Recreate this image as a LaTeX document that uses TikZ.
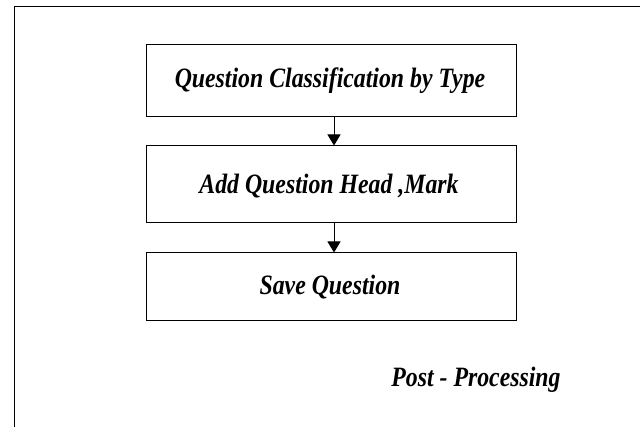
\documentclass[tikz,border=0pt]{standalone}
\usepackage{fontspec}
\setmainfont{Liberation Serif}
\usetikzlibrary{arrows.meta}
\tikzset{
  stagebox/.style={draw=black, line width=1pt, minimum width=370pt, minimum height=#1, inner sep=0pt},
  label/.style={anchor=base, inner sep=0pt, font=\fontsize{28}{30}\selectfont\bfseries\itshape},
  flow/.style={draw=black, line width=1pt, -{Triangle[width=13pt,length=11pt]}}
}
\newcommand{\narrow}[1]{\scalebox{0.85}[1]{#1}}
\begin{document}
\begin{tikzpicture}[x=1pt,y=-1pt]
  \useasboundingbox (0,0) rectangle (640,427);
  % open outer frame
  \draw[line width=1.5pt] (14.5,427) -- (14.5,6.5) -- (640,6.5);
  % processing stages
  \node[stagebox=72pt] (classify) at (331,81) {};
  \node[stagebox=77pt] (head) at (331,184.5) {};
  \node[stagebox=68pt] (save) at (331,287) {};
  \node[label] at (330,88) {\narrow{Question Classification by Type}};
  \node[label] at (329,194) {\narrow{Add Question Head ,Mark}};
  \node[label] at (330,295) {\narrow{Save Question}};
  \draw[flow] (classify.south -| 334,0) -- (head.north -| 334,0);
  \draw[flow] (head.south -| 334,0) -- (save.north -| 334,0);
  \node[label] (post) at (476,387) {\narrow{Post - Processing}};
\end{tikzpicture}
\end{document}
